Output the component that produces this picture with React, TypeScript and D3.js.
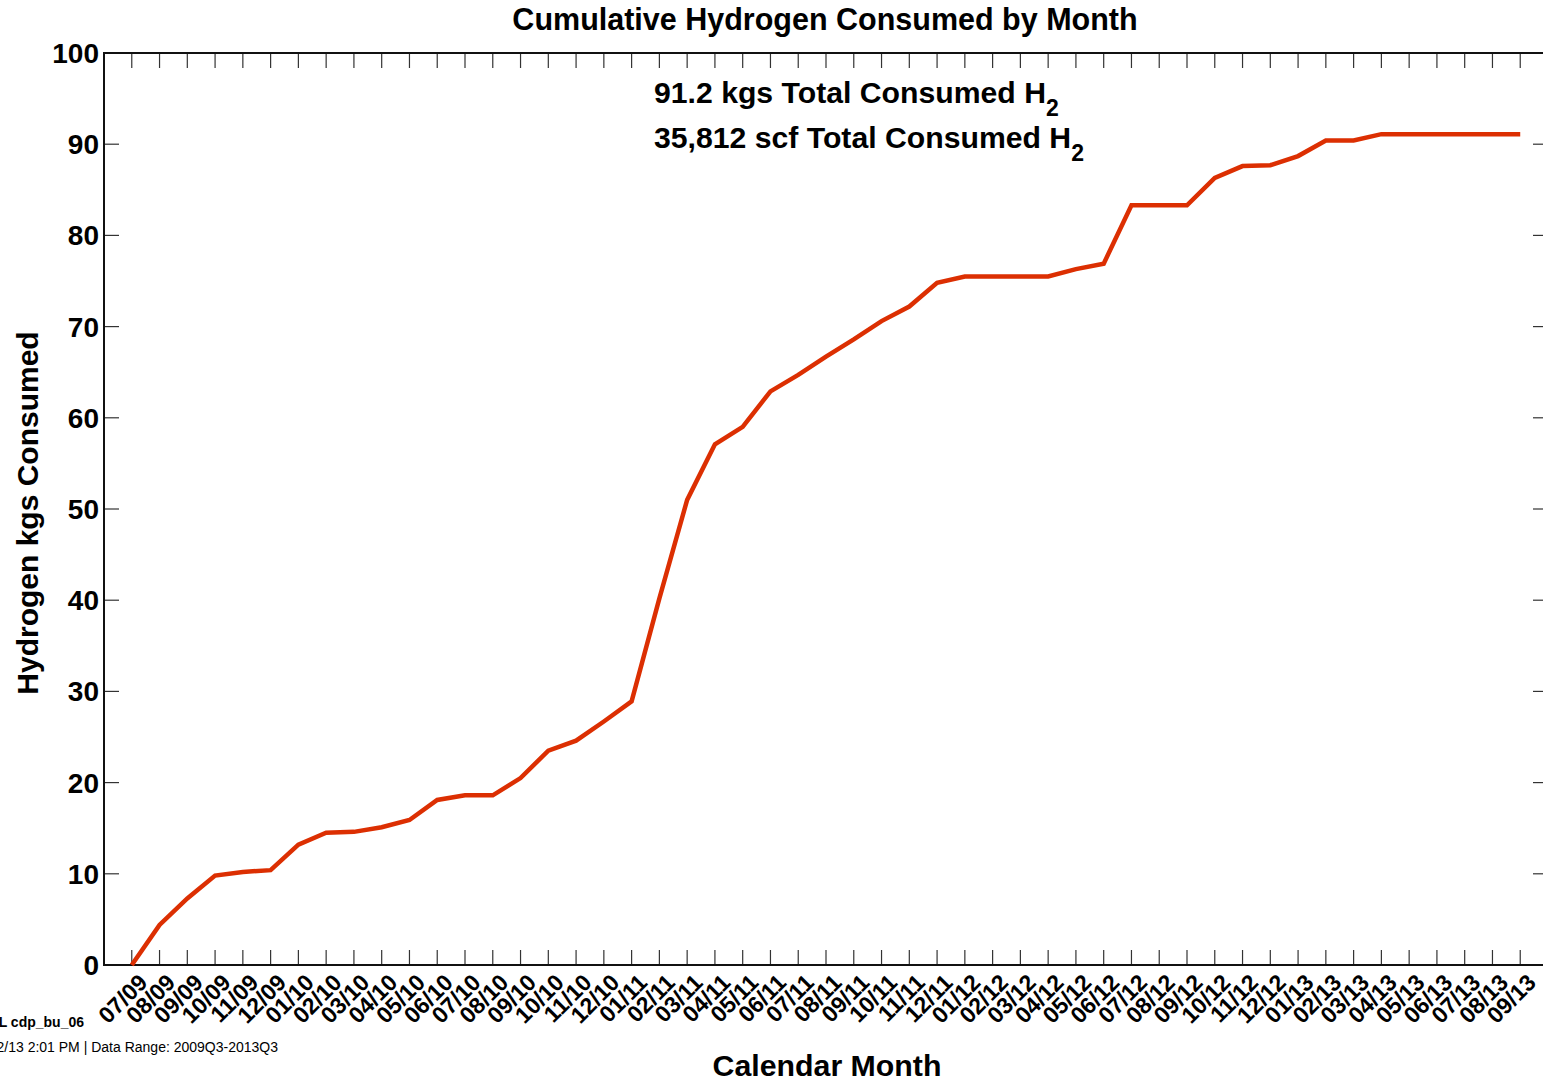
import React from "react";
import * as d3 from "d3";

const months: string[] = [
  "07/09","08/09","09/09","10/09","11/09","12/09",
  "01/10","02/10","03/10","04/10","05/10","06/10","07/10","08/10","09/10","10/10","11/10","12/10",
  "01/11","02/11","03/11","04/11","05/11","06/11","07/11","08/11","09/11","10/11","11/11","12/11",
  "01/12","02/12","03/12","04/12","05/12","06/12","07/12","08/12","09/12","10/12","11/12","12/12",
  "01/13","02/13","03/13","04/13","05/13","06/13","07/13","08/13","09/13",
];

const cumulativeKg: number[] = [
  0, 4.4, 7.3, 9.8, 10.2, 10.4,
  13.2, 14.5, 14.6, 15.1, 15.9, 18.1, 18.6, 18.6, 20.5, 23.5, 24.6, 26.7,
  28.9, 40.2, 51.0, 57.1, 59.0, 62.9, 64.7, 66.7, 68.6, 70.6, 72.2, 74.8,
  75.5, 75.5, 75.5, 75.5, 76.3, 76.9, 83.3, 83.3, 83.3, 86.3, 87.6, 87.7,
  88.7, 90.4, 90.4, 91.1, 91.1, 91.1, 91.1, 91.1, 91.1,
];

const yTicks: number[] = [0, 10, 20, 30, 40, 50, 60, 70, 80, 90, 100];

const W = 1543;
const H = 1081;
const FONT = "'Liberation Sans', Arial, Helvetica, sans-serif";

export default function App() {
  const x = d3.scaleLinear().domain([-1, months.length]).range([104, 1548]);
  const y = d3.scaleLinear().domain([0, 100]).range([965, 53]);
  const line = d3
    .line<number>()
    .x((_, i) => x(i))
    .y((d) => y(d));

  const left = x(-1);
  const right = x(months.length);
  const top = y(100);
  const bottom = y(0);

  return (
    <svg
      width={W}
      height={H}
      style={{ position: "absolute", left: 0, top: 0, background: "#fff" }}
      fontFamily={FONT}
    >
      <rect x={0} y={0} width={W} height={H} fill="#fff" />
      {/* title */}
      <text x={825} y={30} textAnchor="middle" fontSize={30.5} fontWeight="bold">
        Cumulative Hydrogen Consumed by Month
      </text>

      {/* x ticks top & bottom */}
      {months.map((m, i) => (
        <g key={m}>
          <line x1={x(i)} x2={x(i)} y1={top} y2={top + 15} stroke="#333" strokeWidth={1.2} />
          <line x1={x(i)} x2={x(i)} y1={bottom} y2={bottom - 15} stroke="#333" strokeWidth={1.2} />
          <text
            transform={`translate(${x(i) + 17},${bottom + 19}) rotate(-45)`}
            textAnchor="end"
            fontSize={23}
            fontWeight="bold"
          >
            {m}
          </text>
        </g>
      ))}

      {/* y ticks left & right */}
      {yTicks.map((t) => (
        <g key={t}>
          <line x1={left} x2={left + 15} y1={y(t)} y2={y(t)} stroke="#333" strokeWidth={1.2} />
          <line x1={right} x2={right - 15} y1={y(t)} y2={y(t)} stroke="#333" strokeWidth={1.2} />
          <text
            x={99}
            y={y(t)}
            dy="0.36em"
            textAnchor="end"
            fontSize={28}
            fontWeight="bold"
          >
            {t}
          </text>
        </g>
      ))}

      {/* frame */}
      <rect
        x={left}
        y={top}
        width={right - left}
        height={bottom - top}
        fill="none"
        stroke="#111"
        strokeWidth={2}
      />

      {/* data line */}
      <path
        d={line(cumulativeKg) || ""}
        fill="none"
        stroke="#dc2f02"
        strokeWidth={4.5}
        strokeLinejoin="miter"
      />

      {/* annotation */}
      <text x={654} y={103} fontSize={30.2} fontWeight="bold">
        91.2 kgs Total Consumed H
        <tspan fontSize={23} dy={13}>2</tspan>
      </text>
      <text x={654} y={148} fontSize={30.2} fontWeight="bold">
        35,812 scf Total Consumed H
        <tspan fontSize={23} dy={13}>2</tspan>
      </text>

      {/* y axis title */}
      <text
        transform="translate(38,513) rotate(-90)"
        textAnchor="middle"
        fontSize={30}
        fontWeight="bold"
      >
        Hydrogen kgs Consumed
      </text>

      {/* x axis title */}
      <text x={827} y={1076} textAnchor="middle" fontSize={30.3} fontWeight="bold">
        Calendar Month
      </text>

      {/* footnotes */}
      <text x={84} y={1027} textAnchor="end" fontSize={14} fontWeight="bold">
        NREL cdp_bu_06
      </text>
      <text x={278} y={1052} textAnchor="end" fontSize={14}>
        Created: 10/22/13 2:01 PM | Data Range: 2009Q3-2013Q3
      </text>
    </svg>
  );
}
